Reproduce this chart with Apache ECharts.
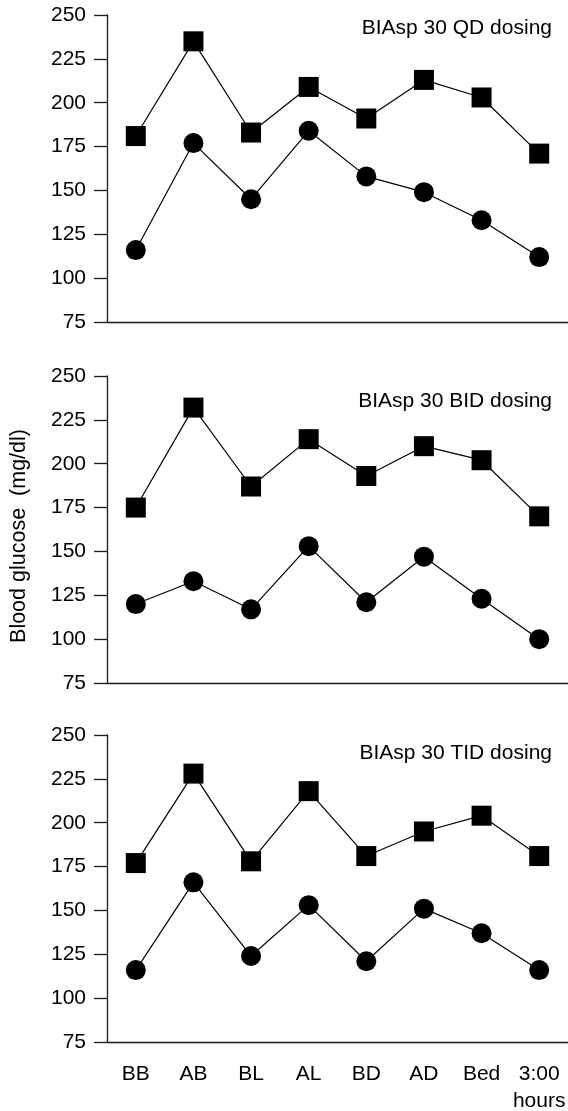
<!DOCTYPE html>
<html>
<head>
<meta charset="utf-8">
<script src="https://cdn.jsdelivr.net/npm/echarts@6/dist/echarts.min.js"></script>
<style>
  html, body { margin: 0; padding: 0; background: #fff; }
  #chart { width: 568px; height: 1111px; }
</style>
</head>
<body>
<div id="chart"></div>
<script>
// time points
const categories = ['BB', 'AB', 'BL', 'AL', 'BD', 'AD', 'Bed', '3:00\nhours'];

// panel titles
const panelTitles = ['BIAsp 30 QD dosing', 'BIAsp 30 BID dosing', 'BIAsp 30 TID dosing'];

// squares (upper line) and circles (lower line), mg/dl
const qdSquares = [181, 235, 183, 209, 191, 213, 203, 171];
const qdCircles = [116, 177, 145, 184, 158, 149, 133, 112];
const bidSquares = [175, 232, 187, 214, 193, 210, 202, 170];
const bidCircles = [120, 133, 117, 153, 121, 147, 123, 100];
const tidSquares = [177, 228, 178, 218, 181, 195, 204, 181];
const tidCircles = [116, 166, 124, 153, 121, 151, 137, 116];

const yMin = 75, yMax = 250, yStep = 25;
const yName = 'Blood glucose  (mg/dl)';

const ink = '#1a1a1a';
const font = 'Liberation Sans, Arial, Helvetica, sans-serif';

let chart = echarts.init(document.getElementById('chart'));

const gridTops = [15, 376, 735];
const titleTops = [13, 386, 738];
const panelSquares = [qdSquares, bidSquares, tidSquares];
const panelCircles = [qdCircles, bidCircles, tidCircles];

let grids = [], xAxes = [], yAxes = [], series = [], titles = [];

for (let i = 0; i < 3; i++) {
  grids.push({ left: 107, right: 0, top: gridTops[i], height: 307, outerBoundsMode: 'none' });
  xAxes.push({
    type: 'category',
    gridIndex: i,
    data: categories,
    boundaryGap: true,
    axisLine: { lineStyle: { color: ink, width: 1.3 } },
    axisTick: { alignWithLabel: true, length: 13, lineStyle: { color: ink, width: 1.3 } },
    axisLabel: {
      show: i === 2,
      interval: 0,
      margin: 19,
      color: '#000',
      fontSize: 21,
      lineHeight: 27,
      fontFamily: font
    }
  });
  yAxes.push({
    type: 'value',
    gridIndex: i,
    min: yMin,
    max: yMax,
    interval: yStep,
    splitLine: { show: false },
    axisLine: { show: true, lineStyle: { color: ink, width: 1.3 } },
    axisTick: { show: true, length: 13, lineStyle: { color: ink, width: 1.3 } },
    axisLabel: { margin: 21, color: '#000', fontSize: 21, fontFamily: font }
  });
  series.push({
    type: 'line',
    xAxisIndex: i,
    yAxisIndex: i,
    data: panelSquares[i],
    symbol: 'rect',
    symbolSize: 20,
    lineStyle: { color: '#000', width: 1.2 },
    itemStyle: { color: '#000' }
  });
  series.push({
    type: 'line',
    xAxisIndex: i,
    yAxisIndex: i,
    data: panelCircles[i],
    symbol: 'circle',
    symbolSize: 20,
    lineStyle: { color: '#000', width: 1.2 },
    itemStyle: { color: '#000' }
  });
  titles.push({
    text: panelTitles[i],
    right: 11,
    top: titleTops[i],
    textStyle: { color: '#000', fontSize: 21, fontWeight: 'normal', fontFamily: font }
  });
}

let option = {
  animation: false,
  backgroundColor: '#fff',
  title: titles,
  grid: grids,
  xAxis: xAxes,
  yAxis: yAxes,
  series: series,
  graphic: [{
    type: 'text',
    x: 19,
    y: 536,
    rotation: Math.PI / 2,
    style: {
      text: yName,
      fill: '#000',
      font: '21.5px ' + font,
      textAlign: 'center',
      textVerticalAlign: 'middle'
    }
  }]
};

chart.setOption(option);
</script>
</body>
</html>
